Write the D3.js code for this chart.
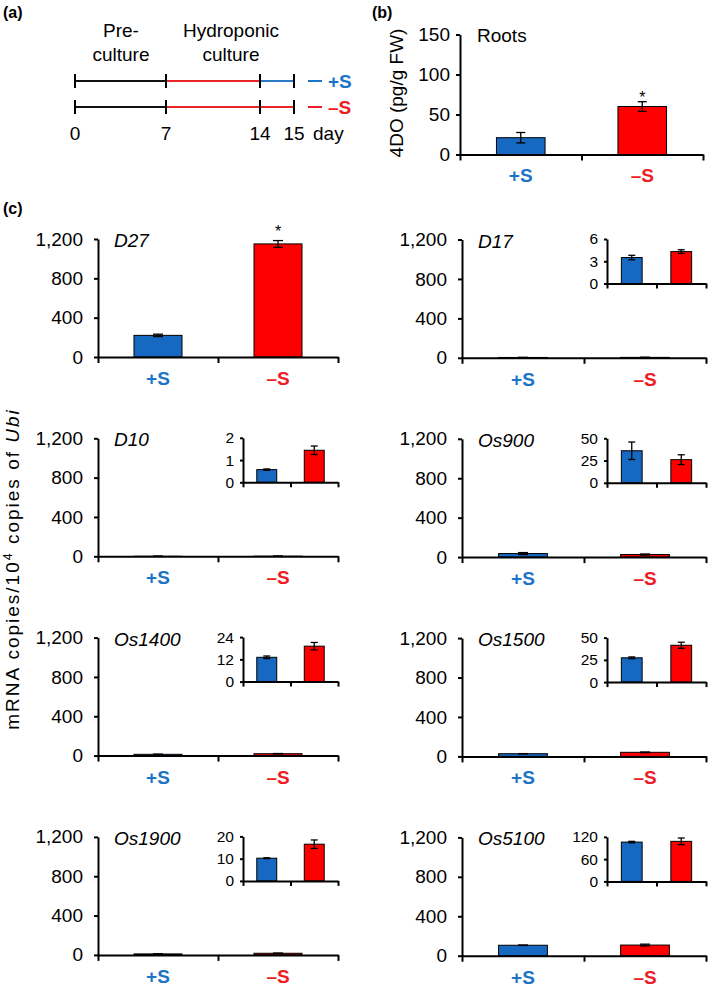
<!DOCTYPE html>
<html><head><meta charset="utf-8">
<script src="https://cdn.jsdelivr.net/npm/d3@7/dist/d3.min.js"></script>
<style>
body{margin:0;background:#fff}
svg{display:block}
text{font-family:"Liberation Sans",Arial,Helvetica,sans-serif}
</style>
</head><body>
<script>
// ---------------- data ----------------
const conditions = ["+S", "–S"];
// panel (a) schedule
const dayTicks = ["0", "7", "14", "15"];
const schedulePlus = [["0","7","pre"],["7","14","minus"],["14","15","plus"]];
const scheduleMinus = [["0","7","pre"],["7","15","minus"]];
// panel (b) 4DO in roots
const b_values = [21, 60];
const b_errors = [6.5, 6];
const b_ticks = [0, 50, 100, 150];
// panel (c) gene expression
const genes = ["D27","D17","D10","Os900","Os1400","Os1500","Os1900","Os5100"];
const plusS  = [220, 3.5, 0.57, 36, 13.1, 27.3, 10.2, 106];
const minusS = [1150, 4.3, 1.44, 26, 19.1, 41.4, 16.5, 108];
const plusErr  = [12, 0.3, 0.03, 9.8, 0.7, 1.0, 0.2, 2];
const minusErr = [34, 0.25, 0.19, 5.5, 2.0, 3.4, 1.9, 9];
const significant = [true, false, false, false, false, false, false, false];
const mainTicks = [0, 400, 800, 1200];
const insetTicks = [null, [0,3,6], [0,1,2], [0,25,50], [0,12,24], [0,25,50], [0,10,20], [0,60,120]];

// ---------------- styles ----------------
const BLUE = "#1668c0", RED = "#ff0000", BLUE_T = "#1b74c6", RED_T = "#ee1c24";
const fillOf = i => i === 0 ? BLUE : RED;
const textOf = i => i === 0 ? BLUE_T : RED_T;
const schedColor = {pre: "#111", minus: "#e8262a", plus: "#2a7ac8"};
const FS = 19;

const svg = d3.select("body").append("svg").attr("width", 709).attr("height", 990);

function styleAxis(g, w) {
  g.selectAll(".domain").attr("stroke", "#000").attr("stroke-width", w);
  g.selectAll(".tick line").attr("stroke", "#000").attr("stroke-width", w);
}

function barChart(g, opt) {
  const {x0, x1, yB, yT, max, ticks, vals, errs, fs, tick, pad, xtick, cap, sw, fmt, inner} = opt;
  const y = d3.scaleLinear().domain([0, max]).range([yB, yT]);
  const x = d3.scaleBand().domain(conditions).range([x0, x1]).paddingInner(inner).paddingOuter(inner/2);
  const xl = d3.scaleLinear().domain([0, 2]).range([x0, x1]);
  g.selectAll("rect.bar").data(conditions).join("rect")
    .attr("x", d => x(d)).attr("width", x.bandwidth())
    .attr("y", (d, i) => y(vals[i])).attr("height", (d, i) => y(0) - y(vals[i]))
    .attr("fill", (d, i) => fillOf(i)).attr("stroke", "#000").attr("stroke-width", 1);
  conditions.forEach((c, i) => {
    const cx = x(c) + x.bandwidth() / 2;
    const lo = y(Math.max(0, vals[i] - errs[i])), hi = y(vals[i] + errs[i]);
    g.append("line").attr("x1", cx).attr("x2", cx).attr("y1", lo).attr("y2", hi).attr("stroke", "#000").attr("stroke-width", 1.3);
    [lo, hi].forEach(v => g.append("line").attr("x1", cx - cap/2).attr("x2", cx + cap/2).attr("y1", v).attr("y2", v).attr("stroke", "#000").attr("stroke-width", 1.3));
  });
  const ya = g.append("g").attr("transform", `translate(${x0},0)`)
    .call(d3.axisLeft(y).tickValues(ticks).tickSize(tick).tickSizeOuter(0).tickPadding(pad).tickFormat(fmt));
  ya.selectAll("text").attr("font-size", fs).attr("fill", "#000").style("font-family", '"Liberation Sans",Arial,sans-serif');
  styleAxis(ya, sw);
  const xa = g.append("g").attr("transform", `translate(0,${yB})`)
    .call(d3.axisBottom(xl).tickValues([0, 1, 2]).tickSize(xtick).tickSizeOuter(0).tickFormat(""));
  styleAxis(xa, sw);
  return {x, y};
}

// ---------------- panel (a) ----------------
const ga = svg.append("g");
ga.append("text").attr("x", 3).attr("y", 18).attr("font-size", 16).attr("font-weight", "bold").text("(a)");
const dx = d3.scaleOrdinal().domain(dayTicks).range([75, 166, 260, 294]);
[[schedulePlus, 81, 0], [scheduleMinus, 107, 1]].forEach(([segs, yy, ci]) => {
  segs.forEach(s => ga.append("line").attr("x1", dx(s[0])).attr("x2", dx(s[1])).attr("y1", yy).attr("y2", yy)
    .attr("stroke", schedColor[s[2]]).attr("stroke-width", 2));
  dayTicks.forEach(d => ga.append("line").attr("x1", dx(d)).attr("x2", dx(d)).attr("y1", yy - 7).attr("y2", yy + 7)
    .attr("stroke", "#000").attr("stroke-width", 2));
  ga.append("line").attr("x1", 308).attr("x2", 322).attr("y1", yy).attr("y2", yy).attr("stroke", textOf(ci)).attr("stroke-width", 2);
  ga.append("text").attr("x", 328).attr("y", yy + 7).attr("font-size", FS).attr("font-weight", "bold").attr("fill", textOf(ci)).text(conditions[ci]);
});
dayTicks.forEach(d => ga.append("text").attr("x", dx(d)).attr("y", 140).attr("text-anchor", "middle").attr("font-size", FS).text(d));
ga.append("text").attr("x", 313).attr("y", 140).attr("font-size", FS).text("day");
[["Pre-", 121, 37], ["culture", 121, 61], ["Hydroponic", 231, 37], ["culture", 231, 61]].forEach(([t, xx, yy]) =>
  ga.append("text").attr("x", xx).attr("y", yy).attr("text-anchor", "middle").attr("font-size", FS).text(t));

// ---------------- panel (b) ----------------
const gb = svg.append("g");
gb.append("text").attr("x", 372).attr("y", 18).attr("font-size", 16).attr("font-weight", "bold").text("(b)");
const pb = barChart(gb, {x0: 460, x1: 703, yB: 154.5, yT: 34.5, max: 150, ticks: b_ticks, vals: b_values, errs: b_errors,
  fs: FS, tick: 4, pad: 6, xtick: 6, cap: 9, sw: 2, fmt: d3.format(","), inner: 0.6});
gb.append("text").attr("x", 477).attr("y", 42).attr("font-size", FS).text("Roots");
gb.append("text").attr("transform", "translate(403,93) rotate(-90)").attr("text-anchor", "middle").attr("font-size", FS).text("4DO (pg/g FW)");
conditions.forEach((c, i) => gb.append("text").attr("x", pb.x(c) + pb.x.bandwidth()/2).attr("y", 182)
  .attr("text-anchor", "middle").attr("font-size", FS).attr("font-weight", "bold").attr("fill", textOf(i)).text(c));
gb.append("text").attr("x", pb.x("–S") + pb.x.bandwidth()/2).attr("y", pb.y(b_values[1] + b_errors[1]) + 1).attr("text-anchor", "middle").attr("font-size", 16).text("*");

// ---------------- panel (c) ----------------
const gc = svg.append("g");
gc.append("text").attr("x", 3).attr("y", 214).attr("font-size", 16).attr("font-weight", "bold").text("(c)");
const yl = gc.append("text").attr("transform", "translate(19,569) rotate(-90)").attr("text-anchor", "middle")
  .attr("font-size", 19).attr("letter-spacing", 2);
yl.append("tspan").text("mRNA copies/10");
yl.append("tspan").attr("font-size", 12.5).attr("dy", -7.5).text("4");
yl.append("tspan").attr("dy", 7.5).text(" copies of ");
yl.append("tspan").attr("font-style", "italic").text("Ubi");

genes.forEach((gname, i) => {
  const col = i % 2, row = Math.floor(i / 2);
  const x0 = col ? 462 : 98, x1 = col ? 706 : 338;
  const yT = 239 + row * 199.3 + col * 0.5, yB = 357 + row * 199.3 + col * 0.8;
  const g = gc.append("g");
  const p = barChart(g, {x0, x1, yB, yT, max: 1200, ticks: mainTicks, vals: [plusS[i], minusS[i]], errs: [plusErr[i], minusErr[i]],
    fs: FS, tick: 4, pad: 11, xtick: 6, cap: 10, sw: 2, fmt: d3.format(","), inner: 0.6});
  g.append("text").attr("x", x0 + 16).attr("y", yT + 8).attr("font-size", FS).attr("font-style", "italic").text(gname);
  conditions.forEach((c, k) => g.append("text").attr("x", p.x(c) + p.x.bandwidth()/2).attr("y", yB + 28)
    .attr("text-anchor", "middle").attr("font-size", FS).attr("font-weight", "bold").attr("fill", textOf(k)).text(c));
  if (significant[i]) {
    g.append("text").attr("x", p.x("–S") + p.x.bandwidth()/2).attr("y", p.y(minusS[i] + minusErr[i]) - 4)
      .attr("text-anchor", "middle").attr("font-size", 16).text("*");
  }
  if (insetTicks[i]) {
    const t = insetTicks[i];
    const ix0 = col ? 607 : 243;
    barChart(g.append("g"), {x0: ix0, x1, yB: yT + 44, yT: yT - 0.5, max: t[t.length - 1], ticks: t,
      vals: [plusS[i], minusS[i]], errs: [plusErr[i], minusErr[i]],
      fs: 15.5, tick: 3, pad: 6, xtick: 5, cap: 7, sw: 2, fmt: d3.format(","), inner: 0.58});
  }
});
</script>
</body></html>
